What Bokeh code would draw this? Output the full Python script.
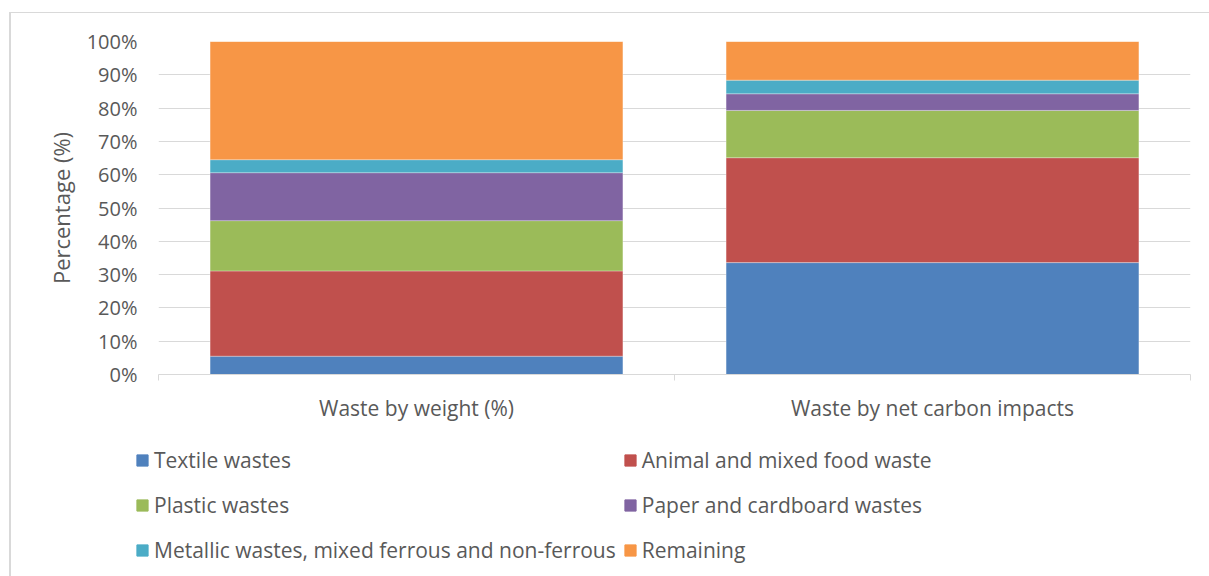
from bokeh.plotting import figure
from bokeh.layouts import column
from bokeh.models import FixedTicker, PrintfTickFormatter, Legend, LegendItem, ColumnDataSource
from bokeh.embed import file_html
from bokeh.resources import INLINE

categories = ["Waste by weight (%)", "Waste by net carbon impacts"]
series = ["Textile wastes", "Animal and mixed food waste", "Plastic wastes",
          "Paper and cardboard wastes", "Metallic wastes, mixed ferrous and non-ferrous", "Remaining"]
textile = [5.5, 33.6]
food = [25.6, 31.5]
plastic = [15.1, 14.2]
paper = [14.4, 5.0]
metal = [3.9, 4.1]
remaining = [35.5, 11.6]
colors = ["#4F81BD", "#C0504D", "#9BBB59", "#8064A2", "#4BACC6", "#F79646"]
y_ticks = [0, 10, 20, 30, 40, 50, 60, 70, 80, 90, 100]

FONT = "Open Sans"
GREY = "#595959"

keys = ["s%d" % i for i in range(len(series))]
data = {"x": [i + 0.5 for i in range(len(categories))]}
for k, vals in zip(keys, [textile, food, plastic, paper, metal, remaining]):
    data[k] = vals
src = ColumnDataSource(data)

p = figure(width=1198, height=428, x_range=(0, len(categories)), y_range=(0, 100),
           output_backend="svg", toolbar_location=None,
           min_border_left=147, min_border_right=19, min_border_top=28, min_border_bottom=67)
p.frame_width = 1032
p.frame_height = 333
p.outline_line_color = None

renderers = p.vbar_stack(keys, x="x", width=0.8, source=src, color=colors,
                         line_color="white", line_width=0.6, line_alpha=0.5)

# axes
p.xgrid.grid_line_color = None
p.ygrid.grid_line_color = "#d9d9d9"
p.ygrid.grid_line_width = 1
p.ygrid.ticker = FixedTicker(ticks=y_ticks)

p.yaxis.ticker = FixedTicker(ticks=y_ticks)
p.yaxis.formatter = PrintfTickFormatter(format="%d%%")
p.yaxis.axis_line_color = None
p.yaxis.major_tick_line_color = None
p.yaxis.minor_tick_line_color = None
p.yaxis.major_label_standoff = 15
p.yaxis.major_label_text_font = FONT
p.yaxis.major_label_text_font_size = "20px"
p.yaxis.major_label_text_color = GREY
p.yaxis.axis_label = "Percentage (%)"
p.yaxis.axis_label_text_font = FONT
p.yaxis.axis_label_text_font_size = "22px"
p.yaxis.axis_label_text_font_style = "normal"
p.yaxis.axis_label_text_color = GREY
p.yaxis.axis_label_standoff = 8

p.xaxis.ticker = FixedTicker(ticks=[i + 0.5 for i in range(len(categories))],
                             minor_ticks=list(range(len(categories) + 1)))
p.xaxis.major_label_overrides = {i + 0.5: c for i, c in enumerate(categories)}
p.xaxis.axis_line_color = "#d9d9d9"
p.xaxis.major_tick_line_color = None
p.xaxis.minor_tick_line_color = "#d9d9d9"
p.xaxis.minor_tick_out = 6
p.xaxis.minor_tick_in = 0
p.xaxis.major_label_standoff = 13
p.xaxis.major_label_text_font = FONT
p.xaxis.major_label_text_font_size = "21px"
p.xaxis.major_label_text_color = GREY

# legend area: a second, axis-less figure holding the legend
p2 = figure(width=1198, height=135, x_range=(0, 1), y_range=(0, 1),
            output_backend="svg", toolbar_location=None,
            x_axis_location=None, y_axis_location=None,
            min_border_left=0, min_border_right=0, min_border_top=0, min_border_bottom=0)
p2.outline_line_color = None
p2.grid.grid_line_color = None
leg_x = -23
try:
    p2.frame_align = False
    leg_x = 124
except Exception:
    pass
leg_renderers = p2.vbar_stack(keys, x="x", width=0.8, source=src, color=colors, visible=False)

items = [LegendItem(label=s, renderers=[r]) for s, r in zip(series, leg_renderers)]
lg = Legend(items=items, location=(leg_x, 7), orientation="horizontal", ncols=2,
            padding=0, margin=0, spacing=7, glyph_width=14, glyph_height=14,
            label_height=38, label_width=461, label_standoff=5,
            label_text_font=FONT, label_text_font_size="21px", label_text_color=GREY,
            border_line_color=None, background_fill_alpha=0)
p2.add_layout(lg, "center")

layout = column(p, p2, spacing=0,
                styles={"border-left": "2px solid #d9d9d9", "border-top": "1px solid #d9d9d9",
                        "margin-left": "9px", "margin-top": "12px"})

open("out.html", "w").write(file_html(layout, INLINE))
